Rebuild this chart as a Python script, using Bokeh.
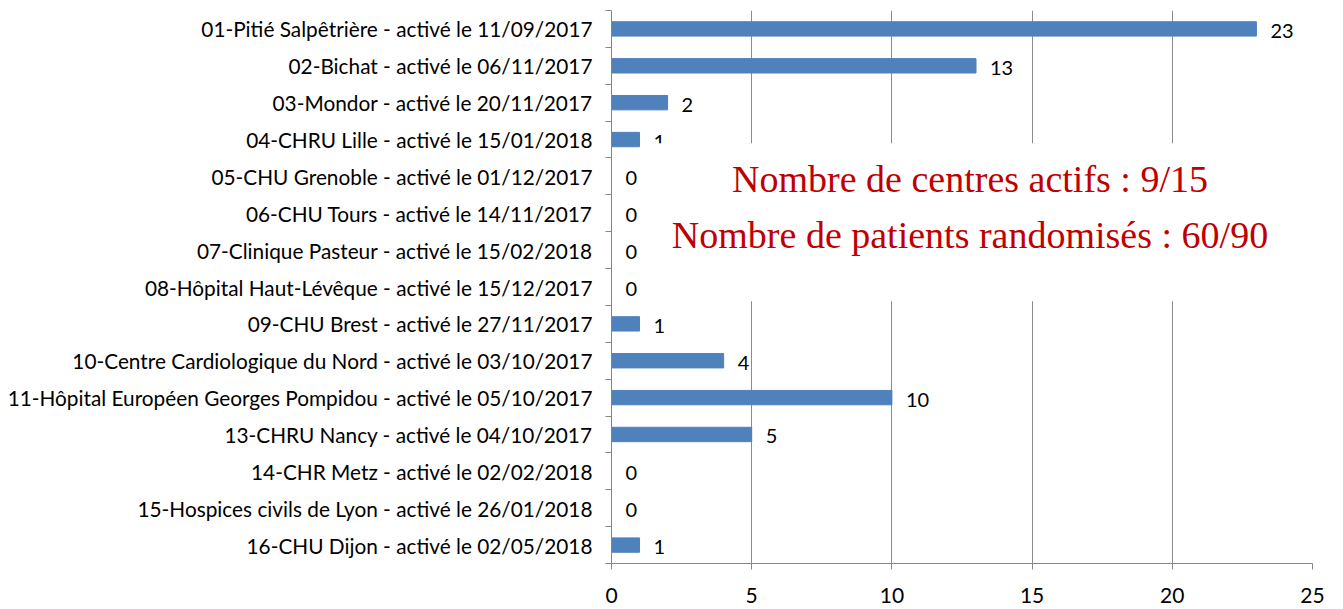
from bokeh.plotting import figure
from bokeh.models import Range1d, FixedTicker, BoxAnnotation, Label, ColumnDataSource
from bokeh.core.properties import value
from bokeh.embed import file_html
from bokeh.resources import INLINE

categories = [
    "01-Pitié Salpêtrière - activé le 11/09/2017",
    "02-Bichat - activé le 06/11/2017",
    "03-Mondor - activé le 20/11/2017",
    "04-CHRU Lille - activé le 15/01/2018",
    "05-CHU Grenoble - activé le 01/12/2017",
    "06-CHU Tours - activé le 14/11/2017",
    "07-Clinique Pasteur - activé le 15/02/2018",
    "08-Hôpital Haut-Lévêque - activé le 15/12/2017",
    "09-CHU Brest - activé le 27/11/2017",
    "10-Centre Cardiologique du Nord - activé le 03/10/2017",
    "11-Hôpital Européen Georges Pompidou - activé le 05/10/2017",
    "13-CHRU Nancy - activé le 04/10/2017",
    "14-CHR Metz - activé le 02/02/2018",
    "15-Hospices civils de Lyon - activé le 26/01/2018",
    "16-CHU Dijon - activé le 02/05/2018",
]
patients = [23, 13, 2, 1, 0, 0, 0, 0, 1, 4, 10, 5, 0, 0, 1]
x_ticks = [0, 5, 10, 15, 20, 25]
summary_lines = ["Nombre de centres actifs : 9/15",
                 "Nombre de patients randomisés : 60/90"]

n = len(categories)
idx = list(range(n))
src = ColumnDataSource(dict(y=idx, v=patients, lab=[str(v) for v in patients]))

p = figure(width=1343, height=609, output_backend="svg", toolbar_location=None,
           x_range=Range1d(0, 25), y_range=Range1d(n - 0.5, -0.5),
           min_border_left=611, min_border_right=31, min_border_top=10, min_border_bottom=46)
p.outline_line_color = None
p.background_fill_color = "white"

p.hbar(y="y", right="v", left=0, height=0.39, source=src,
       fill_color="#4F81BD", line_color="#4F81BD")
p.text(x="v", y="y", text="lab", source=src, x_offset=14, y_offset=2,
       text_baseline="middle", text_align="left", text_font_size="20px",
       text_color="#000000", text_font=value("Lato"))

# y axis
p.yaxis.ticker = FixedTicker(ticks=idx, minor_ticks=[i - 0.5 for i in range(n + 1)])
p.yaxis.major_label_overrides = {i: c for i, c in enumerate(categories)}
p.yaxis.major_tick_out = 0
p.yaxis.major_tick_in = 0
p.yaxis.minor_tick_out = 6
p.yaxis.minor_tick_in = 0
p.yaxis.minor_tick_line_color = "#868686"
p.yaxis.axis_line_color = "#868686"
p.yaxis.major_label_standoff = 13
p.yaxis.major_label_text_font = "Lato"
p.yaxis.major_label_text_font_size = "20.8px"
p.yaxis.major_label_text_color = "#000000"

# x axis
p.xaxis.ticker = FixedTicker(ticks=x_ticks, minor_ticks=[])
p.xaxis.major_tick_out = 6
p.xaxis.major_tick_in = 0
p.xaxis.major_tick_line_color = "#868686"
p.xaxis.axis_line_color = "#868686"
p.xaxis.major_label_standoff = 18
p.xaxis.major_label_text_font = "Lato"
p.xaxis.major_label_text_font_size = "21px"
p.xaxis.major_label_text_color = "#000000"

p.xgrid.grid_line_color = "#8C8C8C"
p.xgrid.ticker = FixedTicker(ticks=x_ticks)
p.ygrid.grid_line_color = None

box = BoxAnnotation(left=1.4, right=24.5, top=3.104, bottom=7.386,
                    fill_color="white", fill_alpha=1.0, line_alpha=0)
p.add_layout(box)

for yv, t in zip([4.07, 5.58], summary_lines):
    p.add_layout(Label(x=12.785, y=yv, text=t, text_align="center", text_baseline="alphabetic",
                       text_font="Liberation Serif", text_font_size="38px",
                       text_color="#C00000"))

open("out.html", "w").write(file_html(p, INLINE))
